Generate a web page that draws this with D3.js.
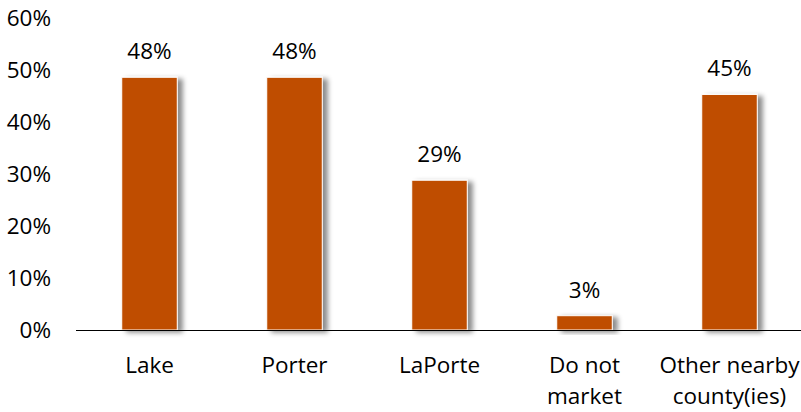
<!DOCTYPE html>
<html><head><meta charset="utf-8">
<script src="https://cdn.jsdelivr.net/npm/d3@7"></script>
<style>body{margin:0;background:#fff}svg{display:block}text{font-family:"Open Sans",sans-serif;fill:#000}</style>
</head><body>
<script>
const categories = [["Lake"],["Porter"],["LaPorte"],["Do not","market"],["Other nearby","county(ies)"]];
const values = [48.6, 48.6, 28.8, 2.75, 45.3];
const valueLabels = ["48%","48%","29%","3%","45%"];
const yTicks = [0,10,20,30,40,50,60];

const W=801,H=412;
const svg=d3.select("body").append("svg").attr("width",W).attr("height",H);
const defs=svg.append("defs");
const f=defs.append("filter").attr("id","sh").attr("x","-20%").attr("y","-20%").attr("width","160%").attr("height","150%");
f.append("feDropShadow").attr("dx",5).attr("dy",2).attr("stdDeviation",2.5).attr("flood-color","#000").attr("flood-opacity",0.45);

const x=d3.scaleBand().domain(d3.range(categories.length)).range([77,802]).padding(0);
const y=d3.scaleLinear().domain([0,60]).range([330,18]);
const bw=x.bandwidth()*0.383;
const fs="22.5px";

const ya=svg.append("g").attr("transform","translate(51,0)").call(d3.axisLeft(y).tickValues(yTicks).tickFormat(d=>d+"%").tickSize(0).tickPadding(0));
ya.select(".domain").remove();
ya.selectAll("text").style("font-size",fs).attr("font-family",null).attr("dy","0.35em");

svg.append("g").selectAll("rect").data(values).join("rect")
 .attr("x",(d,i)=>x(i)+x.bandwidth()/2-bw/2).attr("width",bw)
 .attr("y",d=>y(d)).attr("height",d=>y(0)-y(d))
 .attr("fill","#BF4D00").attr("stroke","#fff").attr("stroke-width",1)
 .attr("filter","url(#sh)");

const xa=svg.append("g").attr("transform","translate(0,330)").call(d3.axisBottom(x).tickSize(0).tickFormat(""));
xa.select(".domain").attr("stroke","#000").attr("stroke-width",1.2).attr("d","M76,0.5H801");

svg.append("g").selectAll("text").data(valueLabels).join("text")
 .attr("x",(d,i)=>x(i)+x.bandwidth()/2).attr("y",(d,i)=>y(values[i])-18)
 .attr("text-anchor","middle").style("font-size",fs).text(d=>d);

const cl=svg.append("g").selectAll("text").data(categories).join("text")
 .attr("x",(d,i)=>x(i)+x.bandwidth()/2).attr("y",373)
 .attr("text-anchor","middle").style("font-size",fs);
cl.selectAll("tspan").data(d=>d).join("tspan")
 .attr("x",function(){return this.parentNode.getAttribute("x")})
 .attr("dy",(d,i)=>i?31:0).text(d=>d);
</script>
</body></html>
